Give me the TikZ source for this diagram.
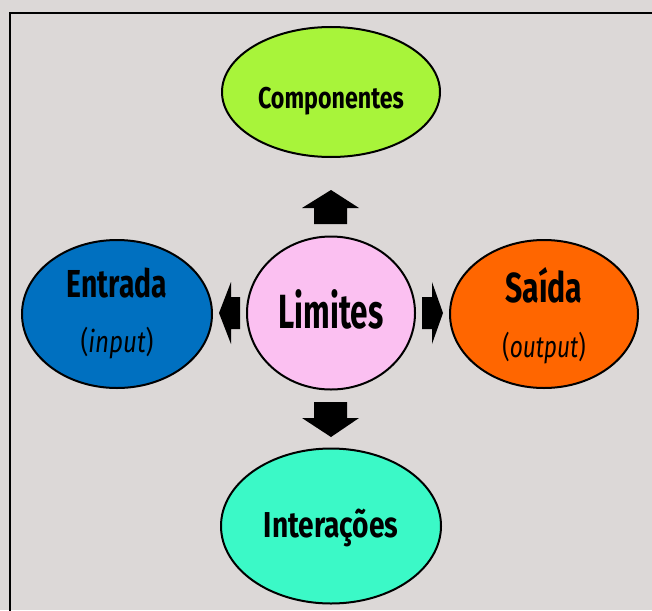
\documentclass[tikz,border=0pt]{standalone}
\usepackage{fontspec}
\setmainfont{Fira Sans}[FakeStretch=0.62]
\usetikzlibrary{shapes.geometric}
\definecolor{bgcol}{HTML}{DCD8D7}
\definecolor{compcol}{HTML}{A8F43A}
\definecolor{limcol}{HTML}{FBC0F1}
\definecolor{entcol}{HTML}{0070C0}
\definecolor{saicol}{HTML}{FF6600}
\definecolor{intcol}{HTML}{3BF9C7}
\tikzset{
  oval/.style={ellipse, draw=black, line width=2pt, inner sep=0pt},
  lbl/.style={text=black, inner sep=0pt, anchor=base},
  blockarrow/.style={fill=black, draw=none}
}
\begin{document}
\begin{tikzpicture}[x=1pt,y=-1pt]
\useasboundingbox (0,0) rectangle (652,610);
\fill[bgcol] (0,0) rectangle (652,610);
\draw[line width=2pt,black] (10,612) -- (10,13) -- (654,13);
% ellipses
\node[oval, fill=compcol, minimum width=218pt, minimum height=130pt] (comp) at (331,92) {};
\node[oval, fill=limcol, minimum width=168pt, minimum height=153pt] (lim) at (331,313) {};
\node[oval, fill=entcol, minimum width=190pt, minimum height=148pt] (ent) at (117,314) {};
\node[oval, fill=saicol, minimum width=188pt, minimum height=148pt] (sai) at (544,314) {};
\node[oval, fill=intcol, minimum width=220pt, minimum height=155pt] (int) at (331,526) {};
% labels
\node[lbl, font=\fontsize{30}{30}\bfseries] (tcomp) at (331,108) {\scalebox{1.25}[1]{Componentes}};
\node[lbl, font=\fontsize{48}{48}\bfseries] (tlim) at (331,328) {\scalebox{1.06}[1]{Limites}};
\node[lbl, font=\fontsize{39}{39}\bfseries] (tent) at (117,297) {\scalebox{1.17}[1]{Entrada}};
\node[lbl, font=\fontsize{30}{30}\selectfont] (tin) at (117,352) {\scalebox{1.3}[1]{(\textit{input})}};
\node[lbl, font=\fontsize{42}{42}\bfseries] (tsai) at (544,302) {\scalebox{1.16}[1]{Saída}};
\node[lbl, font=\fontsize{30}{30}\selectfont] (tout) at (544,357) {\scalebox{1.22}[1]{(\textit{output})}};
\node[lbl, font=\fontsize{36}{36}\bfseries] (tint) at (331,537) {\scalebox{1.26}[1]{Interações}};
% block arrows
\fill[blockarrow] (314,224) -- (314,208) -- (302,208) -- (331,190) -- (359,208) -- (347,208) -- (347,224) -- cycle;
\fill[blockarrow] (314,402) -- (314,418) -- (302,418) -- (331,437) -- (359,418) -- (347,418) -- (347,402) -- cycle;
\fill[blockarrow] (240,297) -- (231,297) -- (231,282) -- (219,313) -- (231,344) -- (231,329) -- (240,329) -- cycle;
\fill[blockarrow] (422,297) -- (432,297) -- (432,282) -- (443,313) -- (432,344) -- (432,329) -- (422,329) -- cycle;
\end{tikzpicture}
\end{document}
